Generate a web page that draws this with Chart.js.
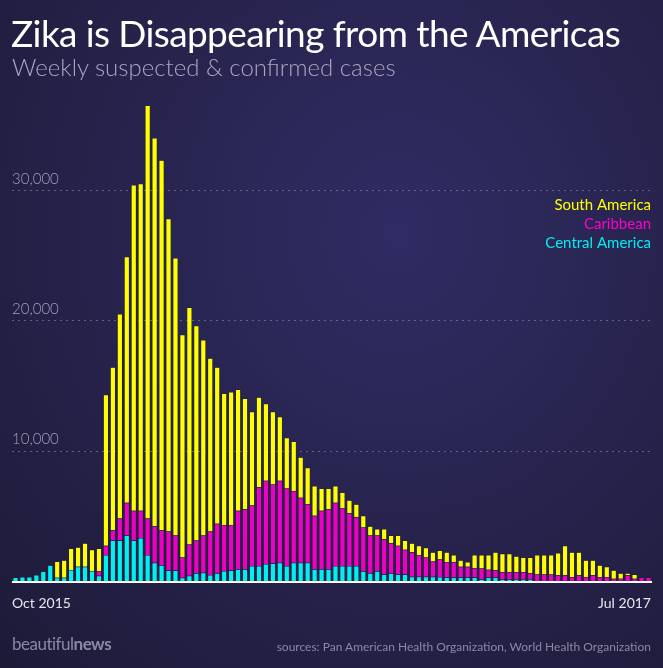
<!DOCTYPE html>
<html>
<head>
<meta charset="utf-8">
<script src="https://cdn.jsdelivr.net/npm/chart.js@4/dist/chart.umd.min.js"></script>
<style>
  html, body { margin: 0; padding: 0; }
  body {
    width: 663px; height: 668px; overflow: hidden; position: relative;
    background: radial-gradient(ellipse at 60% 35%, #302c64 0%, #28244f 45%, #1d1a38 100%);
    font-family: Lato, "Open Sans", sans-serif;
  }
  #wrap { position: absolute; left: 0; top: 0; width: 663px; height: 668px; }
  .t { position: absolute; white-space: nowrap; }
  #title { left: 11px; top: 10px; font-size: 37px; color: #fff; font-weight: 400; letter-spacing: -0.6px; }
  #sub { left: 12px; top: 52px; font-size: 24px; color: #a9a6c2; font-weight: 300; }
  .xl { top: 594px; font-size: 14px; color: #e6e6ee; }
  #brand { left: 12px; bottom: 14px; font-size: 17px; color: #8a88a3; letter-spacing: -0.5px; }
  #src { right: 12px; bottom: 14px; font-size: 12px; color: #8a88a3; }
</style>
</head>
<body>
<div id="wrap"><canvas id="chart" width="663" height="668"></canvas></div>
<div class="t" id="title">Zika is Disappearing from the Americas</div>
<div class="t" id="sub">Weekly suspected &amp; confirmed cases</div>
<div class="t xl" style="left:12px">Oct 2015</div>
<div class="t xl" style="right:12px">Jul 2017</div>
<div class="t" id="brand">beautiful<b>news</b></div>
<div class="t" id="src">sources: Pan American Health Organization, World Health Organization</div>
<script>
// weekly cases, thousands
const centralAmerica = [0.26,0.3,0.3,0.46,0.72,1.2,0.25,0.25,0.85,1.1,1.1,0.77,
  0.4,2.0,3.1,3.1,3.5,3.1,3.3,2.0,1.4,1.2,0.8,0.8,0.25,0.4,0.6,0.64,0.46,0.6,0.77,
  0.8,0.9,0.9,1.15,1.15,1.3,1.35,1.4,1.15,1.4,1.4,1.4,0.9,0.9,0.9,1.15,1.15,1.15,1.15,0.74,0.6,0.74,0.5,0.6,0.5,0.5,0.33,0.33,0.33,0.33,0.3,
  0.26,0.26,0.26,0.26,0.26,0.13,0.26,0.26,0.13,0.13,0.13,0.13,0.13,
  0,0,0,0,0,0,0,0,0,0,0,0,0,0,0,0,0];
const caribbean = [0,0,0,0,0,0,0,0,0,0,0,0,
  0.37,0.7,0.8,1.7,2.5,2.3,2.1,2.8,2.8,2.7,3.0,2.7,1.55,2.4,2.5,2.86,3.34,3.8,3.53,
  3.5,4.5,4.6,4.65,6.05,6.4,6.05,6.3,5.95,5.5,5.0,4.5,4.1,4.5,4.6,4.85,4.45,4.05,3.75,3.36,2.9,2.76,2.7,2.3,2.2,1.9,1.87,1.67,1.47,1.17,1.35,
  1.2,1.2,0.84,0.84,0.74,0.82,0.61,0.56,0.57,0.57,0.57,0.57,0.47,
  0.5,0.5,0.5,0.44,0.44,0.3,0.44,0.3,0.44,0.3,0.3,0.18,0.18,0.44,0.18,0.26,0.26];
const southAmerica = [0,0,0,0,0,0,1.25,1.35,1.65,1.5,1.8,1.63,
  1.73,11.6,12.5,15.7,18.9,25.0,25.1,31.7,29.8,28.4,24.0,21.3,17.1,18.2,16.5,15.0,13.3,12.0,10.1,
  10.2,9.3,8.5,7.2,6.9,5.9,5.6,4.9,3.9,3.8,3.1,2.8,2.3,1.7,1.6,1.3,1.2,1.0,1.0,0.9,0.7,0.5,0.8,0.6,0.8,0.7,0.7,0.7,0.75,0.7,0.7,
  0.74,0.54,0.5,0.36,1.0,1.05,1.13,1.38,1.4,1.4,1.2,1.1,1.2,
  1.5,1.5,1.5,1.71,2.26,1.9,1.76,1.3,1.16,0.9,0.8,0.64,0.42,0.16,0.32,0,0];
const weeks = centralAmerica.map((_, i) => i + 1);
const yTicks = [10000, 20000, 30000];
const legendItems = [['South America', '#ffff00'], ['Caribbean', '#ff00cc'], ['Central America', '#00f0f0']];

const toCases = arr => arr.map(v => Math.round(v * 1000));

const overlay = {
  id: 'overlay',
  afterDraw(chart) {
    const { ctx, chartArea: a, scales: { y } } = chart;
    ctx.save();
    // y labels above gridlines
    ctx.font = '300 15px Lato, sans-serif';
    ctx.fillStyle = '#a19fbb';
    ctx.textBaseline = 'bottom';
    yTicks.forEach(v => ctx.fillText(v.toLocaleString('en-US'), a.left, y.getPixelForValue(v) - 4));
    // baseline
    ctx.fillStyle = '#ffffff';
    ctx.fillRect(a.left, y.getPixelForValue(0), a.right - a.left, 2);
    // legend
    ctx.font = '15px Lato, sans-serif';
    ctx.textAlign = 'right';
    ctx.textBaseline = 'middle';
    legendItems.forEach(([name, col], i) => {
      ctx.fillStyle = col;
      ctx.fillText(name, 651, 205 + i * 19);
    });
    ctx.restore();
  },
  beforeDatasetsDraw(chart) {
    const { ctx, chartArea: a, scales: { y } } = chart;
    ctx.save();
    ctx.strokeStyle = 'rgba(170,170,200,0.45)';
    ctx.setLineDash([2, 4]);
    ctx.lineWidth = 1;
    yTicks.forEach(v => {
      const py = Math.round(y.getPixelForValue(v)) + 0.5;
      ctx.beginPath(); ctx.moveTo(a.left, py); ctx.lineTo(a.right, py); ctx.stroke();
    });
    ctx.restore();
  }
};

const bar = (label, data, color) => ({
  label, data: toCases(data), backgroundColor: color,
  borderColor: 'rgba(20,18,40,0.5)', borderWidth: 0.5,
  barPercentage: 0.75, categoryPercentage: 1
});

new Chart(document.getElementById('chart'), {
  type: 'bar',
  data: {
    labels: weeks,
    datasets: [
      bar('Central America', centralAmerica, '#00f0f0'),
      bar('Caribbean', caribbean, '#ee00c0'),
      bar('South America', southAmerica, '#ffff00')
    ]
  },
  options: {
    responsive: false,
    animation: false,
    layout: { padding: { left: 12, right: 11, top: 99, bottom: 87 } },
    plugins: { legend: { display: false }, tooltip: { enabled: false } },
    scales: {
      x: { stacked: true, display: false },
      y: { stacked: true, display: false, min: 0, max: 37000 }
    }
  },
  plugins: [overlay]
});
</script>
</body>
</html>
